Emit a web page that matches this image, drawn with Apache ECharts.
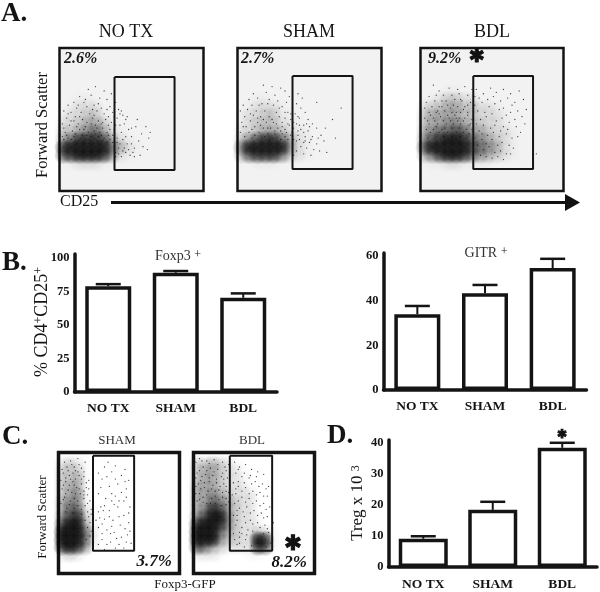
<!DOCTYPE html>
<html><head><meta charset="utf-8">
<style>html,body{margin:0;padding:0;background:#fff}#c{width:600px;height:592px}</style>
<script src="https://cdn.jsdelivr.net/npm/echarts@6/dist/echarts.min.js"></script></head>
<body><div id="c"></div>
<script>
// ---- bar data ----
const groups = ['NO TX','SHAM','BDL'];
const foxp3Values = [79,89,70.3];
const foxp3Upper = [80.5,90.3,73.6];
const gitrValues = [33.9,43.3,54.6];
const gitrUpper = [37.6,47,58.7];
const tregValues = [9.1,18.4,38.4];
const tregUpper = [9.9,21,40];

// ---- flow plots: estimated local darkness (0-9), rows top to bottom, read by eye ----
const noTxDensity = [
'000000000000000000','000000000000000000','000000000000000000','000000000000000000','000000000000000000',
'000000000000000000','001100000000000000','012220000000000000','122331000000000000','223443100000000000',
'334564210000000000','468887421000000000','899999642100000000','789998521000000000','012221000000000000',
'000000000000000000','000000000000000000','000000000000000000'];
const shamDensity = [
'000000000000000000','000000000000000000','000000000000000000','000000000000000000','000000000000000000',
'000000000000000000','001100000000000000','012221000000000000','122331100000000000','123332110000000000',
'223443211000000000','357886421000000000','699999521000000000','478886321000000000','001110000000000000',
'000000000000000000','000000000000000000','000000000000000000'];
const bdlDensity = [
'000000000000000000','000000000000000000','000000000000000000','000000000000000000','000000000000000000',
'000110000000000000','012332200000000000','233443322100000000','344443322210000000','344554332210000000',
'456676443221000000','578998654321000000','799999765421000000','468998654321000000','011221111000000000',
'000000000000000000','000000000000000000','000000000000000000'];
const cShamDensity = [
'0000000000000000','2321000000000000','3331000000000000','3341000000000000','3441000000000000',
'3451000000000000','4551000000000000','4662100000000000','5783100000000000','7994100000000000',
'9996200000000000','9996200000000000','8985100000000000','2320000000000000','0000000000000000','0000000000000000'];
const cBdlDensity = [
'0000000000000000','3343210000000000','3443221000000000','3443221000000000','4443222000000000',
'4454322200000000','4465432200000000','4587432200000000','5799532210000000','8998532210000000',
'9996432232100000','9995332298100000','7643222287100000','2221000110000000','0000000000000000','0000000000000000'];

// ---- flow plots: individually read dots, [x,y] in percent of the plot ----
const noTxDots = [20,71,25,73,31,70,36,68,14,66,22,67,28,65,33,64,39,62,10,62,17,62,6,60,12,58,19,59,24,60,29,58,35,59,41,57,8,55,3,56,15,55,21,54,26,56,31,54,37,55,43,56,46,50,44,53,5,51,11,52,16,50,23,51,27,49,32,50,36,48,40,51,2,47,7,46,13,47,18,45,25,46,30,44,34,46,38,43,42,46,9,42,14,43,20,41,24,42,28,41,33,41,37,39,4,41,16,39,22,38,27,38,31,37,35,36,40,37,45,47,48,43,50,38,53,45,55,35,52,30,47,33,44,36,41,30,46,27,49,25,43,24,39,27,51,27,57,40,60,45,62,37,58,31,54,50,47,52,43,41,45,30,42,33,40,34,48,29,50,33,46,38,44,28,41,26,52,24,38,31,39,24,6,37,10,38,13,35,3,36,18,36,24,37,61,29,56,25,63,41,50,44,
 13,60,18,64,23,57,27,61,33,57,38,52,42,54,6,54,10,49,14,52,19,48,24,53,29,47,34,52,3,44,8,49,12,45,17,43,22,47,26,44,30,48,35,43,39,46,5,39,11,40,15,37,19,39,25,40,29,39,34,39,38,37,2,38,8,36,12,33,17,34,21,36,26,35,30,35,33,34,37,34];
const shamDots = [18,74,24,73,30,72,33,70,11,68,20,69,26,67,36,66,8,64,14,65,22,64,28,63,34,62,41,61,4,60,10,60,17,61,25,60,31,59,38,58,44,58,2,56,7,57,13,56,19,56,27,55,35,55,40,54,47,55,5,52,11,53,16,52,22,52,29,52,33,51,37,50,43,51,49,50,3,48,9,49,14,48,20,48,25,48,31,48,36,46,41,47,46,46,52,47,6,45,12,45,18,44,23,44,28,44,33,43,39,44,44,43,49,42,55,44,2,41,8,41,15,41,21,40,26,40,31,40,37,39,42,39,47,38,52,38,58,39,61,44,66,50,10,37,17,37,24,37,35,36,41,35,46,34,50,34,55,33,60,35,44,31,48,30,53,29,57,28,41,28,46,26,51,25,39,25,62,27,68,37,72,58,45,65,55,62,42,68,
 15,60,21,61,29,58,33,55,37,54,42,52,9,54,14,51,18,50,24,50,27,47,31,45,35,47,39,48,43,46,48,47,4,45,10,43,16,46,21,44,26,42,30,42,34,41,38,41,42,42,46,41,50,45,5,38,12,39,19,38,22,36,27,37,30,36,33,38,39,36,43,36,47,35,51,36,56,37];
const bdlDots = [9,74,13,70,20,72,26,71,31,73,36,71,6,66,16,67,22,67,27,68,33,67,38,66,4,62,10,63,15,63,24,64,29,63,35,62,3,58,8,59,13,59,19,60,26,59,31,59,6,55,11,55,17,56,22,55,28,55,33,55,3,51,9,51,14,52,20,51,25,51,31,51,36,50,6,47,12,47,18,47,23,47,28,47,34,46,4,43,9,43,15,43,11,67,18,63,23,60,28,64,33,60,12,56,15,59,21,58,25,55,30,57,7,53,13,54,19,53,24,53,27,51,33,53,5,49,10,49,16,49,21,49,26,49,30,49,35,47,11,45,17,44,22,44,27,44,32,43,7,41,13,41,19,41,25,41,30,41,34,40,5,37,10,37,16,38,22,37,28,38,32,37,
 39,71,44,68,49,72,53,69,58,71,63,68,69,70,41,65,47,64,51,66,56,63,61,65,66,62,72,64,38,60,43,62,48,59,52,61,58,58,64,60,68,56,74,57,40,56,45,55,50,54,55,57,60,53,63,55,71,52,37,52,42,50,46,52,53,49,57,51,62,48,66,50,73,47,39,47,44,46,49,44,52,46,58,45,61,43,67,45,70,41,36,43,41,42,47,39,51,41,55,38,60,40,64,37,68,38,38,37,43,36,46,33,50,36,54,32,57,34,62,32,65,30,40,32,44,29,48,31,52,27,56,28,60,26,63,26,42,25,46,24,50,23,54,24,58,22,81,26,37,33,43,40,56,42];
const cShamDots = [16,95,22,92,11,90,7,88,19,87,14,85,4,83,9,81,17,81,21,80,25,77,2,77,6,76,12,76,19,74,15,71,23,71,3,70,8,69,11,67,18,66,24,65,5,63,13,62,21,62,26,60,2,58,9,57,16,56,22,56,27,53,6,51,12,50,19,49,25,47,31,44,38,88,44,84,52,81,36,78,42,72,49,74,56,70,33,66,39,62,47,64,54,60,59,55,35,55,42,52,49,55,54,48,38,45,45,44,51,40,58,42,33,38,40,36,46,34,52,30,57,32,36,28,43,26,50,24,56,26,38,20,47,21,60,25,34,46,55,76,44,60,36,33,
 5,92,10,93,13,88,17,90,3,86,8,85,12,83,16,84,21,84,6,79,10,78,14,78,19,78,23,75,4,73,9,73,13,73,17,70,21,68,25,70,6,66,14,66,21,65,4,61,10,60,16,60,24,58,7,54,13,54,19,53,24,51,27,49,22,44,26,42,24,38,27,35,26,31,23,28,
 41,92,47,89,33,83,40,80,55,86,47,78,35,71,52,67,58,77,44,66,38,56,46,57,56,63,33,51,42,47,50,47,58,50,36,41,44,39,55,37,48,29,40,24,54,21,33,24,43,33,59,35,37,52,50,60];
const cBdlDots = [5,95,11,93,17,94,24,92,29,90,8,88,14,87,20,86,27,85,3,83,10,82,16,81,23,80,28,79,6,77,13,76,19,75,25,74,30,73,2,72,9,71,15,70,21,69,27,68,5,66,11,65,18,64,24,63,30,62,3,60,8,59,14,58,27,57,32,65,34,92,38,88,43,90,48,86,53,84,58,82,35,83,40,80,46,79,51,76,57,74,62,72,33,75,37,72,43,71,49,68,55,67,61,64,35,66,40,63,46,62,52,60,58,58,63,55,34,58,38,54,44,55,50,52,56,50,61,47,36,48,42,47,47,44,53,42,59,40,35,40,40,38,45,36,33,33,38,30,43,28,62,34,64,25,36,24,60,22,42,22,48,23,33,48,65,62,66,42,
 2,92,7,93,13,91,20,90,26,88,5,85,11,85,17,84,24,83,30,83,2,79,7,80,13,79,19,78,25,78,9,75,16,73,22,72,27,72,4,74,6,70,12,68,18,68,24,67,29,67,2,66,8,63,15,62,21,61,27,62,5,61,11,58,18,58,23,56,29,59,37,86,42,83,47,81,52,80,37,76,42,75,48,74,54,72,60,70,35,70,40,68,46,66,52,65,58,64,37,60,43,59,49,58,55,56,60,53,36,52,41,51,47,50,53,48,58,46,36,44,43,42,49,41,55,38,61,37,38,34,44,32,49,35,53,25,58,33,34,28,38,25,40,33];

const fontSerif = '"Liberation Serif","Times New Roman",serif';
const ink = '#141414';
const softSpot = {type:'radial',x:.5,y:.5,r:.5,colorStops:[{offset:0,color:'rgba(0,0,0,1)'},{offset:.45,color:'rgba(0,0,0,.75)'},{offset:1,color:'rgba(0,0,0,0)'}]};

function flowSeries(idx, density, dots, gate){
  const rows = density.length, cols = density[0].length, items = [];
  density.forEach((row,r)=>{
    [...row].forEach((ch,c)=>{
      const d = +ch;
      if(!d) return;
      items.push({value:[(c+.5)/cols*100, 100-(r+.5)/rows*100], itemStyle:{opacity: Math.pow(d/9,1.7)*0.8}});
    });
  });
  const pts = [];
  for(let i=0;i<dots.length;i+=2) pts.push([dots[i],dots[i+1]]);
  return [
    {type:'scatter',xAxisIndex:idx,yAxisIndex:idx,data:items,symbol:'circle',symbolSize:19,silent:true,z:2,clip:true,
     itemStyle:{color:softSpot}},
    {type:'scatter',xAxisIndex:idx,yAxisIndex:idx,data:pts,symbol:'circle',symbolSize:1.3,silent:true,z:3,
     itemStyle:{color:'#111',opacity:.8}},
    {type:'line',xAxisIndex:idx,yAxisIndex:idx,data:gate,symbol:'none',silent:true,z:4,
     lineStyle:{color:ink,width:2}}
  ];
}
const gateA1=[[38.2,79.7],[79.9,79.7],[79.9,14.7],[38.2,14.7],[38.2,79.7]];
const gateA2=[[38.2,80.4],[79.9,80.4],[79.9,15.4],[38.2,15.4],[38.2,80.4]];
const gateA3=[[36.9,80.4],[78.7,80.4],[78.7,15.4],[36.9,15.4],[36.9,80.4]];
const gateC1=[[28.5,97.3],[62.5,97.3],[62.5,18.9],[28.5,18.9],[28.5,97.3]];
const gateC2=[[30,97.3],[65,97.3],[65,18.9],[30,18.9],[30,97.3]];

const flowRects=[
 {l:59.5,t:48,w:144,h:143,bg:'#f2f2f2',b:2.5},
 {l:237.5,t:48,w:144,h:143,bg:'#f2f2f2',b:2.5},
 {l:420.5,t:48,w:143,h:143,bg:'#f2f2f2',b:2.5},
 {l:58.5,t:452.5,w:121,h:121,bg:'#fff',b:3.5},
 {l:193.5,t:452.5,w:121,h:121,bg:'#fff',b:3.5}
];
const barRects=[
 {l:74.5,t:254,w:202.5,h:138,max:103,iv:25,vals:foxp3Values,up:foxp3Upper,bw:46,lm:10},
 {l:383.5,t:253,w:203,h:137,max:61.3,iv:20,vals:gitrValues,up:gitrUpper,bw:46,lm:10},
 {l:388.5,t:440,w:208.5,h:135.5,max:40.9,iv:10,vals:tregValues,up:tregUpper,bw:49,lm:11}
];

const grid=[],xAxis=[],yAxis=[],series=[];
flowRects.forEach(f=>{
  grid.push({left:f.l,top:f.t,width:f.w,height:f.h,show:true,backgroundColor:f.bg,borderColor:ink,borderWidth:f.b,containLabel:false});
  xAxis.push({type:'value',gridIndex:grid.length-1,min:0,max:100,show:false});
  yAxis.push({type:'value',gridIndex:grid.length-1,min:0,max:100,show:false});
});
series.push(...flowSeries(0,noTxDensity,noTxDots,gateA1));
series.push(...flowSeries(1,shamDensity,shamDots,gateA2));
series.push(...flowSeries(2,bdlDensity,bdlDots,gateA3));
series.push(...flowSeries(3,cShamDensity,cShamDots,gateC1));
series.push(...flowSeries(4,cBdlDensity,cBdlDots,gateC2));

const labelStyle={color:ink,fontFamily:fontSerif,fontWeight:'bold',fontSize:13.5};
barRects.forEach(b=>{
  const i=grid.length;
  grid.push({left:b.l,top:b.t,width:b.w,height:b.h});
  xAxis.push({type:'category',gridIndex:i,data:groups,axisLine:{lineStyle:{color:ink,width:3.5}},axisTick:{show:false},
    axisLabel:Object.assign({margin:b.lm,interval:0},labelStyle)});
  yAxis.push({type:'value',gridIndex:i,min:0,max:b.max,interval:b.iv,splitLine:{show:false},
    axisLine:{show:true,lineStyle:{color:ink,width:3.5}},axisTick:{show:false},
    axisLabel:Object.assign({margin:5,showMaxLabel:false},labelStyle,{fontSize:12.5})});
  series.push({type:'custom',xAxisIndex:i,yAxisIndex:i,silent:true,z:1,
    data:groups.map((g,k)=>[k,b.vals[k],b.up[k]]),
    encode:{x:0,y:2},
    renderItem:(p,api)=>{
      const a=api.coord([api.value(0),api.value(1)]),t=api.coord([api.value(0),api.value(2)]);
      const half=12.5;
      return {type:'group',children:[
        {type:'line',shape:{x1:a[0],y1:a[1],x2:a[0],y2:t[1]},style:{stroke:ink,lineWidth:2}},
        {type:'line',shape:{x1:a[0]-half,y1:t[1],x2:a[0]+half,y2:t[1]},style:{stroke:ink,lineWidth:2.5}}
      ]};
    }});
  series.push({type:'bar',xAxisIndex:i,yAxisIndex:i,data:b.vals,barWidth:b.bw,silent:true,z:2,
    itemStyle:{color:'#fff',borderColor:ink,borderWidth:3.5}});
});

function txt(x,y,text,o){return {type:'text',x,y,silent:true,style:Object.assign({text,fill:ink,fontFamily:fontSerif,fontSize:16,textAlign:'center',textVerticalAlign:'middle'},o||{})};}
function rot(x,y,text,o,rich){return {type:'text',x,y,rotation:Math.PI/2,silent:true,style:Object.assign({text,fill:ink,fontFamily:fontSerif,fontSize:16,textAlign:'center',textVerticalAlign:'middle',rich:rich},o||{})};}
const sup={fontFamily:fontSerif,fontSize:12,verticalAlign:'top',lineHeight:12,fill:ink,padding:[0,0,6,0]};
const big={fontSize:27,fontWeight:'bold',textAlign:'left'};
const pct={fontWeight:'bold',fontStyle:'italic'};
const star='\u2731';
const starStyle=s=>({fontFamily:'"DejaVu Sans"',fontSize:s,fontWeight:'bold',fill:'#111',stroke:'#111',lineWidth:1});
const graphic=[
 txt(1,14,'A.',big),txt(2,263,'B.',big),txt(2,437,'C.',big),txt(327,436,'D.',big),
 txt(126,32,'NO TX',{fontSize:18}),txt(309,32,'SHAM',{fontSize:18}),txt(492,32,'BDL',{fontSize:18}),
 txt(64,59,'2.6%',Object.assign({fontSize:16,textAlign:'left'},pct)),
 txt(241,59,'2.7%',Object.assign({fontSize:16,textAlign:'left'},pct)),
 txt(428,59,'9.2%',Object.assign({fontSize:16,textAlign:'left'},pct)),
 txt(477,57,star,starStyle(19)),
 rot(43,125,'Forward Scatter',{fontSize:16.5}),
 txt(60,202,'CD25',{fontSize:16,textAlign:'left'}),
 {type:'line',silent:true,shape:{x1:111,y1:202.5,x2:568,y2:202.5},style:{stroke:'#111',lineWidth:3}},
 {type:'polygon',silent:true,shape:{points:[[565,194],[580,202.5],[565,211]]},style:{fill:'#111'}},
 {type:'text',x:178,y:256,silent:true,style:{text:'Foxp3 {s|+}',fill:'#333',fontFamily:fontSerif,fontSize:14,textAlign:'center',textVerticalAlign:'middle',rich:{s:sup}}},
 {type:'text',x:486,y:253,silent:true,style:{text:'GITR {s|+}',fill:'#333',fontFamily:fontSerif,fontSize:14,textAlign:'center',textVerticalAlign:'middle',rich:{s:sup}}},
 rot(42,322,'% CD4{s|+}CD25{s|+}',{fontSize:18},{s:sup}),
 rot(358,503,'Treg x 10 {s|3}',{fontSize:17},{s:sup}),
 txt(562,435,star,starStyle(12)),
 txt(117,441,'SHAM',{fontSize:13,fill:'#333'}),txt(252,441,'BDL',{fontSize:13,fill:'#333'}),
 rot(43,517,'Forward Scatter',{fontSize:13}),
 txt(185,585,'Foxp3-GFP',{fontSize:13}),
 txt(172,562,'3.7%',Object.assign({fontSize:17,textAlign:'right'},pct)),
 txt(307,563,'8.2%',Object.assign({fontSize:17,textAlign:'right'},pct)),
 txt(293,545,star,starStyle(21))
];

const chart=echarts.init(document.getElementById('c'),null,{renderer:'canvas',width:600,height:592});
chart.setOption({animation:false,backgroundColor:'#fff',grid,xAxis,yAxis,series,graphic});
</script></body></html>
